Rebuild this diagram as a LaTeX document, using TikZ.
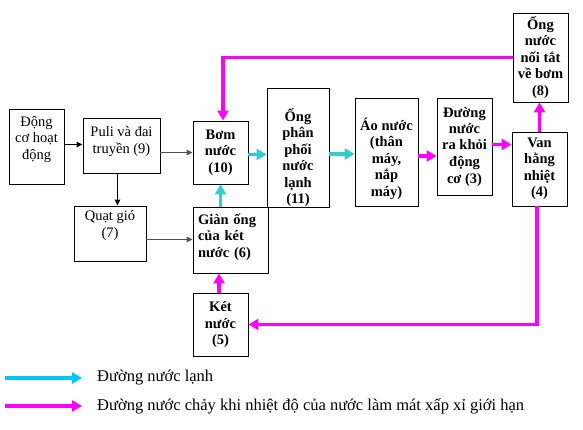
\documentclass[tikz,border=0pt]{standalone}
\usepackage{fontspec}
\setmainfont{Liberation Serif}
\usetikzlibrary{arrows.meta}
\usetikzlibrary{positioning}
\definecolor{coldline}{RGB}{51,204,204}
\definecolor{legcoldline}{RGB}{0,200,245}
\definecolor{hotline}{RGB}{255,0,255}
\definecolor{beltgray}{RGB}{80,80,80}
\newcommand{\padbelow}[1]{\rule[-#1]{0pt}{#1}}
\newcommand{\padabove}[1]{\rule{0pt}{#1}}
\tikzset{box/.style={draw, line width=0.9pt, align=center, inner sep=0pt,
        font=\fontsize{14.5}{16.5}\selectfont}}
\tikzset{bbox/.style={box, font=\fontsize{14.5}{16.5}\selectfont\bfseries}}
\tikzset{size/.style 2 args={minimum width=#1pt, minimum height=#2pt}}
\tikzset{legtext/.style={anchor=west, inner sep=0pt, font=\fontsize{16.5}{18}\selectfont}}
\tikzset{drive/.style={-{Triangle[length=6pt,width=5.5pt]}, line width=1pt}}
\tikzset{cold/.style={-{Triangle[length=10pt,width=11pt]}, line width=3.5pt, coldline}}
\tikzset{hot/.style={-{Triangle[length=10pt,width=11pt]}, line width=3.5pt, hotline}}

\begin{document}
\begin{tikzpicture}[x=1pt, y=-1pt]
            \useasboundingbox (0,0) rectangle (583,429);
            \node[box, size={55}{75}] (dongco) at (36.5,146.5) {Động\\cơ hoạt\\động\padbelow{18pt}};
            \node[box, size={77}{55}] (puli) at (121.5,145.5) {Puli và đai\\truyền (9)\padbelow{11pt}};
            \node[box, size={72}{55}] (quat) at (110,233.5) {Quạt gió\\(7)\padbelow{19pt}};
            \node[bbox, size={55}{63}] (bom) at (220.5,152.5) {Bơm\\nước\\(10)};
            \node[bbox, size={75}{66}, text width=65pt, align=left] (gian) at (230.5,240) {Giàn ống\\của két\\nước (6)\padbelow{9pt}};
            \node[bbox, size={62}{119}] (ongpp) at (298,147.5) {\padabove{33pt}Ống\\phân\\phối\\nước\\lạnh\\(11)};
            \node[bbox, size={63}{108}] (aonuoc) at (386.5,152) {\padabove{26pt}Áo nước\\(thân\\máy,\\nắp\\máy)};
            \node[bbox, size={55}{97}] (duong) at (464.5,146.5) {Đường\\nước\\ra khỏi\\động\\cơ (3)};
            \node[bbox, size={55}{74}] (van) at (539.5,169) {Van\\hằng\\nhiệt\\(4)};
            \node[bbox, size={55}{89}] (ongnt) at (540.5,57.5) {Ống\\nước\\nối tắt\\về bơm\\(8)};
            \node[bbox, size={55}{63}] (ket) at (220.5,324.5) {Két\\nước\\(5)};
            \coordinate (c1s) at (5,378);
            \coordinate (c1e) at (82,378);
            \coordinate (h1s) at (5,406);
            \coordinate (h1e) at (82,406);
            \node[legtext] (legcold) at (97,378) {Đường nước lạnh};
            \node[legtext] (leghot) at (97,406) {Đường nước chảy khi nhiệt độ của nước làm mát xấp xỉ giới hạn};
            \draw[drive] ([yshift=2]dongco.east) -- ([yshift=2]dongco.east -| puli.west);
            \draw[drive, beltgray] (bom.west -| puli.east) -- (bom.west);
            \draw[drive] ([xshift=-4]puli.south) -- ([xshift=-4]puli.south |- quat.north);
            \draw[drive, beltgray] ([yshift=-6]quat.east) -- ([yshift=-6]quat.east -| gian.west);
            \draw[cold] (gian.north -| bom.south) -- (bom.south);
            \draw[cold] ([yshift=-2]bom.east) -- ([yshift=-2]bom.east -| ongpp.west);
            \draw[cold] ([yshift=-2]aonuoc.west -| ongpp.east) -- ([yshift=-2]aonuoc.west);
            \draw[hot] ([yshift=-4]aonuoc.east) -- ([yshift=-4]aonuoc.east -| duong.west);
            \draw[hot] ([yshift=2]duong.east) -- ([yshift=2]duong.east -| van.west);
            \draw[hot] (van.north) -- (van.north |- ongnt.south);
            \draw[hot] (ongnt.west) -| ([xshift=2.5]bom.north);
            \draw[hot] ([xshift=-2.5]van.south) |- (ket.east);
            \draw[hot] ([xshift=-1.5]ket.north) -- ([xshift=-1.5]ket.north |- gian.south);
            \draw[cold, legcoldline] (c1s) -- (c1e);
            \draw[hot] (h1s) -- (h1e);
        \end{tikzpicture}
\end{document}
